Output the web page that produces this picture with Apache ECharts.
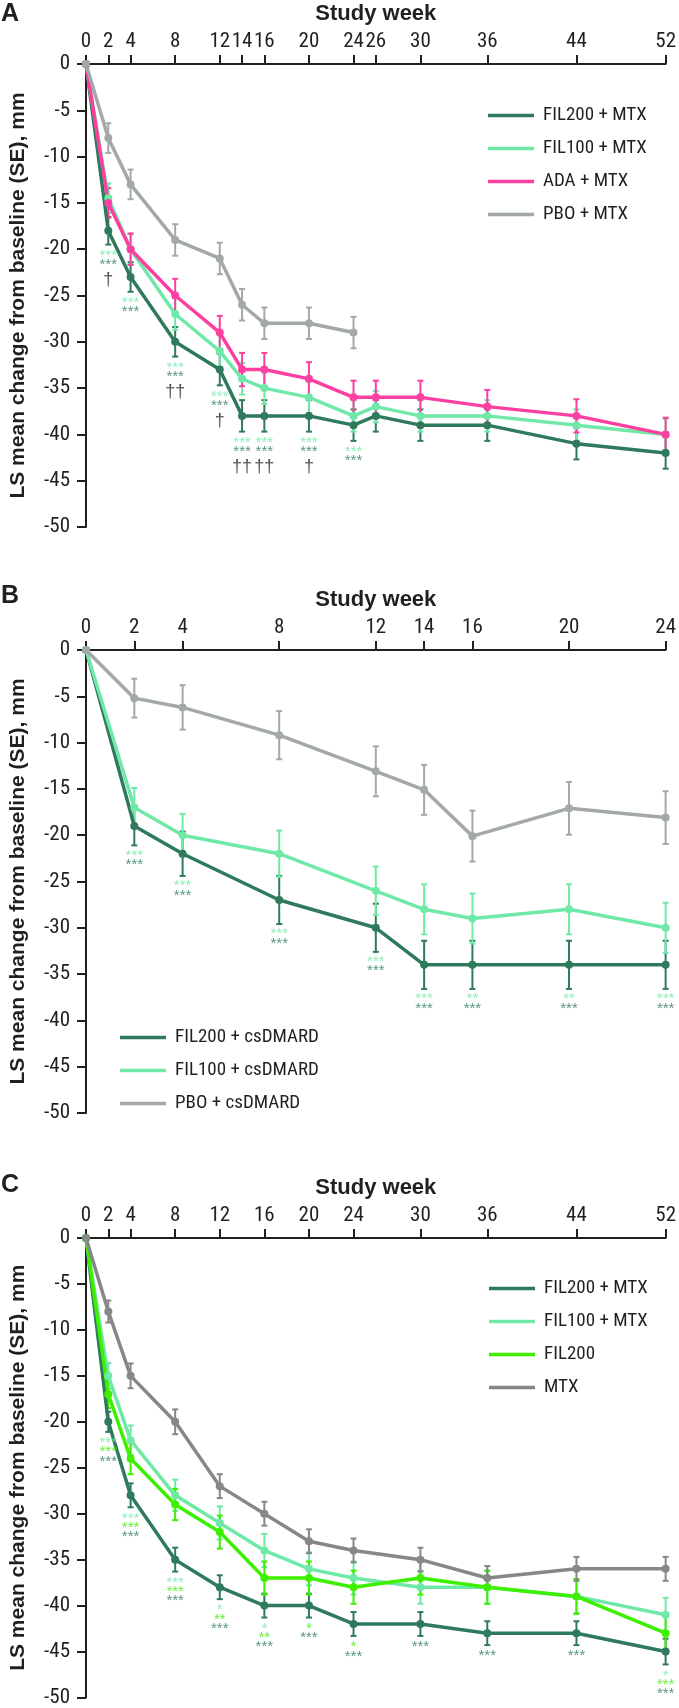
<!DOCTYPE html>
<html><head><meta charset="utf-8">
<script src="https://cdn.jsdelivr.net/npm/echarts@6/dist/echarts.min.js"></script>
<style>html,body{margin:0;padding:0;background:#fff}#c{width:679px;height:1708px}</style>
</head><body><div id="c"></div>
<script>
// ---------- Panel A ----------
const weeksA = [0,2,4,8,12,14,16,20,24,26,30,36,44,52];
const ticksA = [0,2,4,8,12,14,16,20,24,26,30,36,44,52];
const a_fil200 = [0,-18,-23,-30,-33,-38,-38,-38,-39,-38,-39,-39,-41,-42];
const a_fil200_se = [0,1.5,1.6,1.6,1.7,1.7,1.7,1.7,1.7,1.7,1.7,1.7,1.7,1.7];
const a_fil100 = [0,-14.5,-20,-27,-31,-34,-35,-36,-38,-37,-38,-38,-39,-40];
const a_fil100_se = [0,1.6,1.6,1.7,1.7,1.7,1.7,1.7,1.7,1.7,1.7,1.7,1.7,1.7];
const a_ada = [0,-15,-20,-25,-29,-33,-33,-34,-36,-36,-36,-37,-38,-40];
const a_ada_se = [0,1.6,1.7,1.8,1.8,1.8,1.8,1.8,1.8,1.8,1.8,1.8,1.8,1.8];
const weeksA_pbo = [0,2,4,8,12,14,16,20,24];
const a_pbo = [0,-8,-13,-19,-21,-26,-28,-28,-29];
const a_pbo_se = [0,1.6,1.6,1.7,1.7,1.7,1.7,1.7,1.7];
const a_sig100 = ['','***','***','***','***','***','***','***','***','','','','',''];
const a_sig200 = ['','***','***','***','***','***','***','***','***','','','','',''];
const a_dagger = ['','\u2020','','\u2020\u2020','\u2020','\u2020\u2020','\u2020\u2020','\u2020','','','','','',''];

// ---------- Panel B ----------
const weeksB = [0,2,4,8,12,14,16,20,24];
const ticksB = [0,2,4,8,12,14,16,20,24];
const b_fil200 = [0,-19,-22,-27,-30,-34,-34,-34,-34];
const b_fil200_se = [0,2.1,2.4,2.6,2.6,2.6,2.6,2.6,2.6];
const b_fil100 = [0,-17,-20,-22,-26,-28,-29,-28,-30];
const b_fil100_se = [0,2.1,2.3,2.5,2.6,2.7,2.7,2.7,2.7];
const b_pbo = [0,-5.2,-6.2,-9.2,-13.1,-15.1,-20.1,-17.1,-18.1];
const b_pbo_se = [0,2.1,2.4,2.6,2.7,2.7,2.75,2.85,2.85];
const b_sig100 = ['','***','***','***','***','***','**','**','***'];
const b_sig200 = ['','***','***','***','***','***','***','***','***'];

// ---------- Panel C ----------
const weeksC = [0,2,4,8,12,16,20,24,30,36,44,52];
const ticksC = [0,2,4,8,12,16,20,24,30,36,44,52];
const c_fil200mtx = [0,-20,-28,-35,-38,-40,-40,-42,-42,-43,-43,-45];
const c_fil200mtx_se = [0,1.1,1.3,1.3,1.3,1.3,1.3,1.3,1.3,1.3,1.3,1.4];
const c_fil100mtx = [0,-15,-22,-28,-31,-34,-36,-37,-38,-38,-39,-41];
const c_fil100mtx_se = [0,1.4,1.6,1.7,1.8,1.8,1.8,1.8,1.8,1.8,1.8,1.85];
const c_fil200 = [0,-17,-24,-29,-32,-37,-37,-38,-37,-38,-39,-43];
const c_fil200_se = [0,1.5,1.7,1.7,1.8,1.8,1.8,1.8,1.8,1.8,1.9,1.9];
const c_mtx = [0,-8,-15,-20,-27,-30,-33,-34,-35,-37,-36,-36];
const c_mtx_se = [0,1.2,1.35,1.35,1.3,1.3,1.3,1.3,1.3,1.3,1.3,1.3];
const c_sig100 = ['','***','***','***','*','*','','','','','','*'];
const c_sig200 = ['','***','***','***','**','**','*','*','','','','***'];
const c_sig200mtx = ['','***','***','***','***','***','***','***','***','***','***','***'];

// ---------- styling ----------
const FONT = "'Liberation Sans', Arial, Helvetica, sans-serif";
const NARROW = "'Liberation Sans Narrow', 'Arial Narrow', 'Roboto Condensed', 'Liberation Sans', sans-serif";
const INK = '#231f20';
const DARK = '#2f7a5c';
const MINT = '#70e9a8';
const PINK = '#fc3fa0';
const GREY = '#a3a8a8';
const GREY2 = '#878787';
const LIME = '#3cf000';

const grids = [
  {left: 82, top: 64, width: 588, height: 463},
  {left: 83, top: 650, width: 589, height: 463},
  {left: 83, top: 1238, width: 588, height: 463}
];

function xAxisCfg(idx, max, ticks) {
  return {
    type: 'value', gridIndex: idx, position: 'top', min: 0, max: max, interval: 2,
    name: 'Study week', nameLocation: 'middle', nameGap: 39,
    nameTextStyle: {fontFamily: FONT, fontWeight: 'bold', fontSize: 22, color: INK},
    axisLine: {show: true, onZero: false, lineStyle: {color: INK, width: 2}},
    axisTick: {show: true, length: 9, customValues: ticks, lineStyle: {color: INK, width: 2}},
    axisLabel: {show: true, customValues: ticks, margin: 12, fontFamily: NARROW, fontSize: 21, color: INK, hideOverlap: false},
    splitLine: {show: false}
  };
}
function yAxisCfg(idx) {
  return {
    type: 'value', gridIndex: idx, min: -50, max: 0, interval: 5,
    name: 'LS mean change from baseline (SE), mm', nameLocation: 'middle', nameGap: 57,
    nameTextStyle: {fontFamily: FONT, fontWeight: 'bold', fontSize: 21, color: INK},
    axisLine: {show: true, lineStyle: {color: INK, width: 2}},
    axisTick: {show: true, length: 9, lineStyle: {color: INK, width: 2}},
    axisLabel: {show: true, margin: 16, fontFamily: NARROW, fontSize: 21, color: INK},
    splitLine: {show: false}
  };
}

function errRender(color) {
  return function (params, api) {
    const x = api.value(0), lo = api.value(1), hi = api.value(2);
    const p1 = api.coord([x, hi]), p2 = api.coord([x, lo]);
    const w = 3;
    const st = {stroke: color, lineWidth: 2};
    return {type: 'group', children: [
      {type: 'line', shape: {x1: p1[0], y1: p1[1], x2: p2[0], y2: p2[1]}, style: st},
      {type: 'line', shape: {x1: p1[0] - w, y1: p1[1], x2: p1[0] + w, y2: p1[1]}, style: st},
      {type: 'line', shape: {x1: p2[0] - w, y1: p2[1], x2: p2[0] + w, y2: p2[1]}, style: st}
    ]};
  };
}

const series = [];
function addSeries(idx, name, weeks, vals, se, color) {
  const ed = [];
  weeks.forEach((w, i) => { if (se[i] > 0) ed.push([w, vals[i] - se[i], vals[i] + se[i]]); });
  series.push({
    type: 'custom', name: name + ' SE', xAxisIndex: idx, yAxisIndex: idx,
    renderItem: errRender(color), data: ed, encode: {x: 0, y: [1, 2]}, silent: true
  });
  series.push({
    type: 'line', name: name, xAxisIndex: idx, yAxisIndex: idx,
    data: weeks.map((w, i) => [w, vals[i]]),
    symbol: 'circle', symbolSize: 8, showSymbol: true,
    color: color, itemStyle: {color: color}, lineStyle: {color: color, width: 3.5},
    silent: true
  });
}
function addSig(idx, weeks, base, se, rowsDef, distance) {
  const data = [];
  weeks.forEach((w, i) => {
    const parts = [];
    rowsDef.forEach(r => { if (r.arr[i]) parts.push('{' + r.key + '|' + r.arr[i] + '}'); });
    if (parts.length) {
      data.push({value: [w, base[i] - se[i]], label: {formatter: parts.join('\n')}});
    }
  });
  const rich = {};
  rowsDef.forEach(r => { rich[r.key] = r.style; });
  series.push({
    type: 'scatter', name: 'sig' + idx, xAxisIndex: idx, yAxisIndex: idx,
    symbolSize: 1, itemStyle: {color: 'rgba(0,0,0,0)'}, z: 5, silent: true,
    label: {show: true, position: 'bottom', distance: distance, align: 'center', rich: rich},
    data: data
  });
}
const star = c => ({color: c, fontFamily: FONT, fontSize: 15, lineHeight: 9.3, align: 'center'});

// Panel A
addSeries(0, 'FIL200 + MTX', weeksA, a_fil200, a_fil200_se, DARK);
addSeries(0, 'FIL100 + MTX', weeksA, a_fil100, a_fil100_se, MINT);
addSeries(0, 'ADA + MTX', weeksA, a_ada, a_ada_se, PINK);
addSeries(0, 'PBO + MTX', weeksA_pbo, a_pbo, a_pbo_se, GREY);
addSig(0, weeksA, a_fil200, a_fil200_se, [
  {key: 'l', arr: a_sig100, style: star(MINT)},
  {key: 'd', arr: a_sig200, style: star(DARK)},
  {key: 'k', arr: a_dagger, style: {color: INK, fontFamily: FONT, fontSize: 18, lineHeight: 21, align: 'center'}}
], 6);

// Panel B
addSeries(1, 'FIL200 + csDMARD', weeksB, b_fil200, b_fil200_se, DARK);
addSeries(1, 'FIL100 + csDMARD', weeksB, b_fil100, b_fil100_se, MINT);
addSeries(1, 'PBO + csDMARD', weeksB, b_pbo, b_pbo_se, GREY);
addSig(1, weeksB, b_fil200, b_fil200_se, [
  {key: 'l', arr: b_sig100, style: star(MINT)},
  {key: 'd', arr: b_sig200, style: star(DARK)}
], 5);

// Panel C
addSeries(2, 'FIL200 + MTX', weeksC, c_fil200mtx, c_fil200mtx_se, DARK);
addSeries(2, 'FIL100 + MTX', weeksC, c_fil100mtx, c_fil100mtx_se, MINT);
addSeries(2, 'FIL200', weeksC, c_fil200, c_fil200_se, LIME);
addSeries(2, 'MTX', weeksC, c_mtx, c_mtx_se, GREY2);
addSig(2, weeksC, c_fil200mtx, c_fil200mtx_se, [
  {key: 'l', arr: c_sig100, style: star(MINT)},
  {key: 'g', arr: c_sig200, style: star(LIME)},
  {key: 'd', arr: c_sig200mtx, style: star(DARK)}
], 6);

function legendCfg(left, top, items) {
  return {
    orient: 'vertical', left: left, top: top, itemWidth: 46, itemHeight: 3.5, itemGap: 14,
    icon: 'rect', selectedMode: false,
    textStyle: {fontFamily: NARROW, fontSize: 19, color: INK, padding: [0, 0, 0, 4]},
    data: items.map(it => ({name: it[0], icon: 'rect', itemStyle: {color: it[1]}}))
  };
}

const chart = echarts.init(document.getElementById('c'), null, {renderer: 'canvas'});
chart.setOption({
  animation: false,
  backgroundColor: '#fff',
  grid: grids,
  xAxis: [xAxisCfg(0, 52, ticksA), xAxisCfg(1, 24, ticksB), xAxisCfg(2, 52, ticksC)],
  yAxis: [yAxisCfg(0), yAxisCfg(1), yAxisCfg(2)],
  legend: [
    legendCfg(483, 101, [['FIL200 + MTX', DARK], ['FIL100 + MTX', MINT], ['ADA + MTX', PINK], ['PBO + MTX', GREY]]),
    legendCfg(115, 1023, [['FIL200 + csDMARD', DARK], ['FIL100 + csDMARD', MINT], ['PBO + csDMARD', GREY]]),
    legendCfg(484, 1274, [['FIL200 + MTX', DARK], ['FIL100 + MTX', MINT], ['FIL200', LIME], ['MTX', GREY2]])
  ],
  graphic: [
    {type: 'text', left: 1, top: 2, style: {text: 'A', font: "bold 25px " + FONT, fill: INK}},
    {type: 'text', left: 1, top: 584, style: {text: 'B', font: "bold 25px " + FONT, fill: INK}},
    {type: 'text', left: 1, top: 1173, style: {text: 'C', font: "bold 25px " + FONT, fill: INK}}
  ],
  series: series
});
</script>
</body></html>
